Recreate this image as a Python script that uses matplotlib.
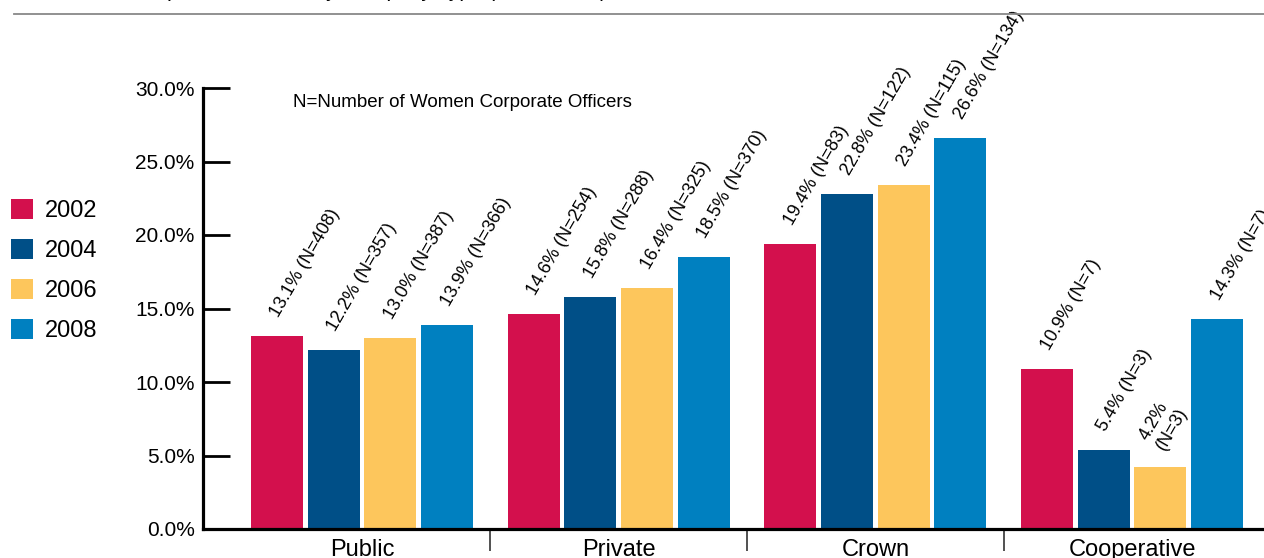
import numpy as np
import matplotlib
matplotlib.use('Agg')
import matplotlib.pyplot as plt
from matplotlib.patches import Patch

plt.rcParams['font.family'] = ['Liberation Sans', 'DejaVu Sans']

# Share of women corporate officers by company type
categories = ['Public', 'Private', 'Crown', 'Cooperative']
years = ['2002', '2004', '2006', '2008']
pct = {
    '2002': [13.1, 14.6, 19.4, 10.9],
    '2004': [12.2, 15.8, 22.8, 5.4],
    '2006': [13.0, 16.4, 23.4, 4.2],
    '2008': [13.9, 18.5, 26.6, 14.3],
}
n_women = {
    '2002': [408, 254, 83, 7],
    '2004': [357, 288, 122, 3],
    '2006': [387, 325, 115, 3],
    '2008': [366, 370, 134, 7],
}
y_ticks = [0, 5, 10, 15, 20, 25, 30]

colors = ['#D3104D', '#004F87', '#FDC65C', '#0080C0']

W, H, DPI = 1264, 558, 100
fig = plt.figure(figsize=(W / DPI, H / DPI), dpi=DPI)

# axes pixel geometry: y axis at x=203, baseline at y=529, 30% at y=88
group_px = 256.7
x0_px = 362
left_px, bottom_px, top_px = 203, 529, 88
xmin = -(x0_px - left_px) / group_px
xmax = 3.6
ax_w = (xmax - xmin) * group_px
ax = fig.add_axes([left_px / W, (H - bottom_px) / H, ax_w / W, (bottom_px - top_px) / H])
ax.set_xlim(xmin, xmax)
ax.set_ylim(0, 30)

x = np.arange(len(categories))
step = 56.7 / group_px
bar_w = 52 / group_px
for i, yr in enumerate(years):
    xs = x + (i - 1.5) * step
    ax.bar(xs, pct[yr], width=bar_w, color=colors[i], label=yr, zorder=2)
    for xi, v, n in zip(xs, pct[yr], n_women[yr]):
        if v < 5:
            txt = f'{v:.1f}%\n(N={n})'
        else:
            txt = f'{v:.1f}% (N={n})'
        ax.annotate(txt, xy=(xi, v), xytext=(2, 18), textcoords='offset pixels',
                    rotation=60, rotation_mode='anchor', ha='left', va='baseline',
                    fontsize=13, annotation_clip=False)

ax.text(-0.27, 29.0, 'N=Number of Women Corporate Officers', fontsize=13.5,
        ha='left', va='center')

# spines and ticks
for s in ['top', 'right']:
    ax.spines[s].set_visible(False)
ax.spines['left'].set_linewidth(2.3)
ax.spines['bottom'].set_linewidth(2.3)
ax.spines['left'].set_bounds(0, 30)

ax.set_yticks(y_ticks)
ax.set_yticklabels([f'{t:.1f}%' for t in y_ticks], fontsize=15)
ax.tick_params(axis='y', direction='in', length=19.5, width=2.0, pad=6)

ax.set_xticks(x)
ax.set_xticklabels(categories, fontsize=17)
ax.tick_params(axis='x', which='major', length=0, pad=7)
ax.set_xticks(x[:-1] + 0.5, minor=True)
ax.tick_params(axis='x', which='minor', direction='out', length=15.5, width=1.2, color='#333333')

# title line above the chart
fig.add_artist(plt.Line2D([14 / W, 1.0], [1 - 14 / H, 1 - 14 / H], color='#888888', lw=1.3))
fig.text(56 / W, 1 + 3 / H, 'Women Corporate Officers, by Company Type (2002\u20132008)',
         fontsize=15, ha='left', va='baseline')

handles = [Patch(facecolor=c, edgecolor='none') for c in colors]
fig.legend(handles, years, loc='upper left', bbox_to_anchor=(2 / W, 1 - 190 / H),
           frameon=False, fontsize=17, handlelength=0.9, handleheight=0.9,
           handletextpad=0.5, labelspacing=0.72, borderaxespad=0)

fig.savefig('out.png', dpi=DPI)
